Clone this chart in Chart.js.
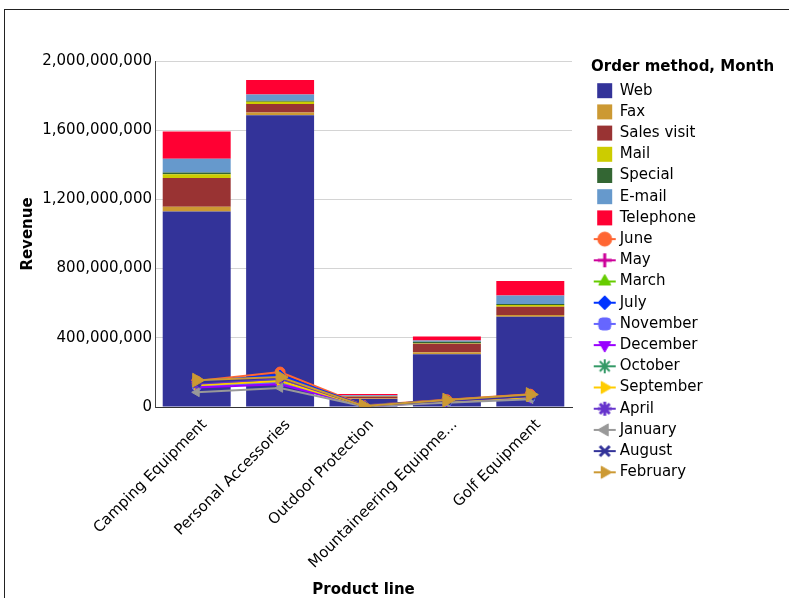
<!DOCTYPE html>
<html>
<head>
<meta charset="utf-8">
<script src="https://cdn.jsdelivr.net/npm/chart.js@4.4.1/dist/chart.umd.min.js"></script>
<style>
  html, body { margin: 0; padding: 0; background: #fff; overflow: hidden; }
  #wrap { position: relative; width: 789px; height: 598px; }
  #frame { position: absolute; left: 4px; top: 9px; width: 900px; height: 700px; border: 1.5px solid #222; pointer-events: none; }
  canvas { position: absolute; left: 0; top: 0; }
</style>
</head>
<body>
<div id="wrap">
  <canvas id="chart" width="789" height="598"></canvas>
  <div id="frame"></div>
</div>
<script>
const productLines = ['Camping Equipment', 'Personal Accessories', 'Outdoor Protection', 'Mountaineering Equipment', 'Golf Equipment'];

// stacked bars: revenue by order method
const orderMethods = ['Web', 'Fax', 'Sales visit', 'Mail', 'Special', 'E-mail', 'Telephone'];
const methodColors = ['#333399', '#cc9933', '#993333', '#cccc00', '#336633', '#6699cc', '#ff0033'];
const webRev       = [1130e6, 1686e6, 46e6, 305e6, 522e6];
const faxRev       = [27e6, 17e6, 3e6, 12e6, 10e6];
const salesRev     = [167e6, 48e6, 12e6, 48e6, 48e6];
const mailRev      = [21e6, 13e6, 2e6, 3e6, 9e6];
const specialRev   = [11e6, 6e6, 1e6, 9e6, 7e6];
const emailRev     = [79e6, 37e6, 4e6, 8e6, 48e6];
const phoneRev     = [157e6, 83e6, 7e6, 23e6, 85e6];
const methodValues = [webRev, faxRev, salesRev, mailRev, specialRev, emailRev, phoneRev];

// lines: revenue by month
const months = ['June', 'May', 'March', 'July', 'November', 'December', 'October', 'September', 'April', 'January', 'August', 'February'];
const monthColors = ['#ff6633', '#cc0099', '#66cc00', '#0033ff', '#6666ff', '#9900ff', '#339966', '#ffcc00', '#6633cc', '#999999', '#333399', '#cc9933'];
const monthMarkers = ['circle', 'cross', 'triangle', 'rectRot', 'rectRounded', 'triangle', 'star', 'triangle', 'star', 'triangle', 'crossRot', 'triangle'];
const monthRotations = [0, 0, 0, 0, 0, 180, 0, 90, 0, 270, 0, 90];
const monthMarkerWidths = [1, 3, 1, 1, 1, 1, 2, 1, 3, 1, 3, 1];
const juneRev  = [150e6, 202e6, 9e6, 42e6, 74e6];
const mayRev   = [142e6, 168e6, 7e6, 36e6, 64e6];
const marRev   = [138e6, 160e6, 7e6, 34e6, 60e6];
const julRev   = [146e6, 185e6, 8e6, 38e6, 68e6];
const novRev   = [122e6, 142e6, 5e6, 30e6, 55e6];
const decRev   = [112e6, 132e6, 5e6, 27e6, 50e6];
const octRev   = [130e6, 152e6, 6e6, 33e6, 58e6];
const sepRev   = [126e6, 150e6, 6e6, 32e6, 57e6];
const aprRev   = [134e6, 164e6, 7e6, 35e6, 62e6];
const janRev   = [85e6, 110e6, 4e6, 24e6, 45e6];
const augRev   = [140e6, 172e6, 7e6, 37e6, 64e6];
const febRev   = [155e6, 173e6, 6e6, 40e6, 72e6];
const monthValues = [juneRev, mayRev, marRev, julRev, novRev, decRev, octRev, sepRev, aprRev, janRev, augRev, febRev];

const yTicks = [0, 400e6, 800e6, 1200e6, 1600e6, 2000e6];

Chart.defaults.font.family = 'DejaVu Sans';
Chart.defaults.font.size = 15;
Chart.defaults.color = '#000';

// legend box gets a fixed width so the long title is not clipped
const LEGEND_W = 198;
const legendWidth = {
  id: 'legendWidth',
  beforeLayout(chart) {
    const lg = chart.legend;
    if (!lg || lg._fixedW) return;
    const fit = lg.fit.bind(lg);
    lg.fit = function () { fit(); this.width = LEGEND_W; };
    lg._fixedW = true;
  },
};

// small "line + marker" icon for the month entries of the legend
function markerIcon(ds) {
  const c = document.createElement('canvas');
  c.width = 24; c.height = 18;
  const ctx = c.getContext('2d');
  ctx.strokeStyle = ds.borderColor;
  ctx.lineWidth = 2;
  ctx.beginPath(); ctx.moveTo(1, 9); ctx.lineTo(23, 9); ctx.stroke();
  ctx.fillStyle = ds.backgroundColor;
  ctx.lineWidth = ds.pointBorderWidth;
  Chart.helpers.drawPoint(ctx, { pointStyle: ds.pointStyle, rotation: ds.pointRotation, radius: 7, borderWidth: ds.pointBorderWidth }, 12, 9);
  return c;
}

const barSets = orderMethods.map((name, i) => ({
  type: 'bar',
  label: name,
  data: methodValues[i],
  backgroundColor: methodColors[i],
  borderWidth: 0,
  stack: 'orders',
  yAxisID: 'y',
  order: 20,
  pointStyle: 'rect',
  barPercentage: 0.815,
  categoryPercentage: 1,
}));

const lineSets = months.map((name, i) => ({
  type: 'line',
  label: name,
  data: monthValues[i],
  borderColor: monthColors[i],
  backgroundColor: monthColors[i],
  borderWidth: 2,
  pointStyle: monthMarkers[i],
  pointRotation: monthRotations[i],
  pointRadius: i === months.length - 1 ? 8 : 5,
  pointBorderWidth: monthMarkerWidths[i],
  yAxisID: 'y2',
  order: 10 - i,
  fill: false,
  tension: 0,
}));

new Chart(document.getElementById('chart').getContext('2d'), {
  data: { labels: productLines, datasets: [...barSets, ...lineSets] },
  plugins: [legendWidth],
  options: {
    responsive: false,
    animation: false,
    layout: { padding: { left: 14, top: 52, right: 0, bottom: 0 } },
    plugins: {
      tooltip: { enabled: false },
      legend: {
        position: 'right',
        align: 'start',
        title: {
          display: true,
          text: 'Order method, Month',
          position: 'start',
          font: { weight: 'bold', size: 15 },
          padding: { top: 8, bottom: -1 },
        },
        labels: {
          usePointStyle: true,
          padding: 6.2,
          font: { size: 15 },
          color: '#000',
          sort: (a, b) => a.datasetIndex - b.datasetIndex,
          generateLabels(chart) {
            const items = Chart.defaults.plugins.legend.labels.generateLabels(chart);
            items.forEach((it) => {
              const ds = chart.data.datasets[it.datasetIndex];
              if (ds.type === 'line') { it.pointStyle = markerIcon(ds); it.rotation = 0; }
            });
            return items;
          },
        },
      },
    },
    scales: {
      x: {
        stacked: true,
        grid: { display: false, drawTicks: false },
        border: { color: '#333', width: 1 },
        ticks: {
          autoSkip: false, minRotation: 45, maxRotation: 45, padding: 9, labelOffset: 8,
          callback: function (v) {
            const s = this.getLabelForValue(v);
            return s.length > 23 ? s.slice(0, 22) + '...' : s;
          },
        },
        title: { display: true, text: 'Product line', font: { weight: 'bold' }, padding: { top: 0, bottom: -1 } },
        afterFit: (s) => { s.height = 191; },
      },
      y: {
        stacked: true,
        min: 0,
        max: 2000e6,
        grid: { color: '#d4d4d4', drawTicks: false },
        border: { color: '#444', width: 1 },
        afterBuildTicks: (s) => { s.ticks = yTicks.map((v) => ({ value: v })); },
        ticks: { padding: 3, callback: (v) => v.toLocaleString('en-US') },
        title: { display: true, text: 'Revenue', font: { weight: 'bold' }, padding: { top: 5, bottom: 4 } },
        afterFit: (s) => { s.width = 141; s.paddingTop = 61; },
      },
      y2: {
        position: 'right',
        min: 0,
        max: 2000e6,
        grid: { display: false, drawTicks: false },
        border: { display: false },
        ticks: { display: false },
        afterFit: (s) => { s.width = 19; },
      },
    },
  },
});
</script>
</body>
</html>
